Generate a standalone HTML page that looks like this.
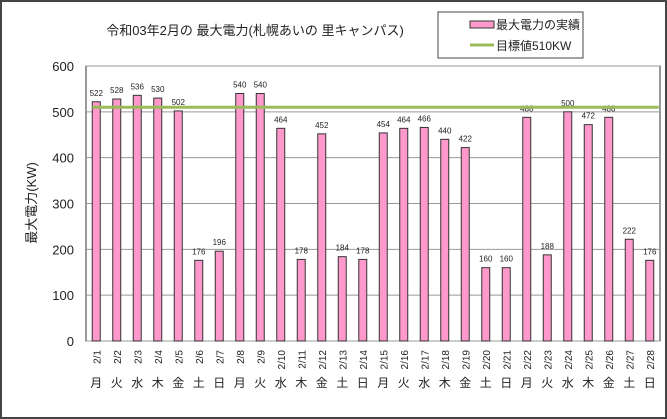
<!DOCTYPE html>
<html><head><meta charset="utf-8"><style>
body{margin:0;background:#fff}
svg{display:block;font-family:"Liberation Sans","Noto Sans CJK JP",sans-serif}
</style></head><body>
<svg id="c" width="667" height="419" viewBox="0 0 667 419">
<rect x="1" y="1" width="665" height="417" fill="#fff" stroke="#444" stroke-width="2"/>
<text x="255" y="35" font-size="13" text-anchor="middle" fill="#222">令和03年2月の 最大電力(札幌あいの 里キャンパス)</text>
<g>
<rect x="438" y="12" width="145" height="46" fill="#fff" stroke="#444"/>
<g><rect x="470" y="21" width="24" height="7" fill="#ff99cc" stroke="#333"/><text x="496" y="29" font-size="12" fill="#222">最大電力の実績</text></g>
<g><line x1="470" y1="45" x2="494" y2="45" stroke="#9bbb59" stroke-width="3"/><text x="496" y="50" font-size="12" fill="#222">目標値510KW</text></g>
</g>
<text transform="translate(36,203) rotate(-90)" font-size="13" text-anchor="middle" fill="#222">最大電力(KW)</text>
<g id="plot"></g>
</svg>
<script>
const categories=["2/1","2/2","2/3","2/4","2/5","2/6","2/7","2/8","2/9","2/10","2/11","2/12","2/13","2/14","2/15","2/16","2/17","2/18","2/19","2/20","2/21","2/22","2/23","2/24","2/25","2/26","2/27","2/28"];
const weekdays=["月","火","水","木","金","土","日","月","火","水","木","金","土","日","月","火","水","木","金","土","日","月","火","水","木","金","土","日"];
const values=[522,528,536,530,502,176,196,540,540,464,178,452,184,178,454,464,466,440,422,160,160,488,188,500,472,488,222,176];
const target=510;
const yTicks=[0,100,200,300,400,500,600];
const NS="http://www.w3.org/2000/svg";
const L=86,R=660,T=66,B=341,YMAX=600;
const bw=(R-L)/categories.length;
function y(v){return B-(v/YMAX)*(B-T);}
function x(i){return L+bw*(i+0.5);}
const g=document.getElementById('plot');
function mk(t,a,p){const e=document.createElementNS(NS,t);for(const k in a)e.setAttribute(k,a[k]);(p||g).appendChild(e);return e;}
mk('rect',{x:L,y:T,width:R-L,height:B-T,fill:'#fff',stroke:'#333'});
yTicks.forEach(v=>{
 const gl=mk('line',{x1:L,x2:R,y1:y(v),y2:y(v),stroke:'#999','stroke-width':1});
 
 
 const t=mk('text',{x:L-12,y:y(v)+5,'font-size':13,'text-anchor':'end',fill:'#222'});
 t.textContent=v;
 
 
});
values.forEach((v,i)=>{
 const r=mk('rect',{x:x(i)-4,y:y(v),width:8,height:B-y(v),fill:'#ff99cc',stroke:'#333','stroke-width':1});
 
 
 const t=mk('text',{x:x(i),y:y(v)-6,'font-size':8,'text-anchor':'middle',fill:'#222'});
 t.textContent=v;
 
 
 const c=mk('text',{transform:`translate(${x(i)+4},${B+9}) rotate(-90)`,'font-size':10,'text-anchor':'end',fill:'#222'});
 c.textContent=categories[i];
 
 
 const w=mk('text',{x:x(i),y:387,'font-size':12,'text-anchor':'middle',fill:'#222'});
 w.textContent=weekdays[i];
 
 
});
const tl=mk('line',{x1:x(0)-4,x2:x(categories.length-1)+9,y1:y(target),y2:y(target),stroke:'#9bbb59','stroke-width':3});


</script>
</body></html>
